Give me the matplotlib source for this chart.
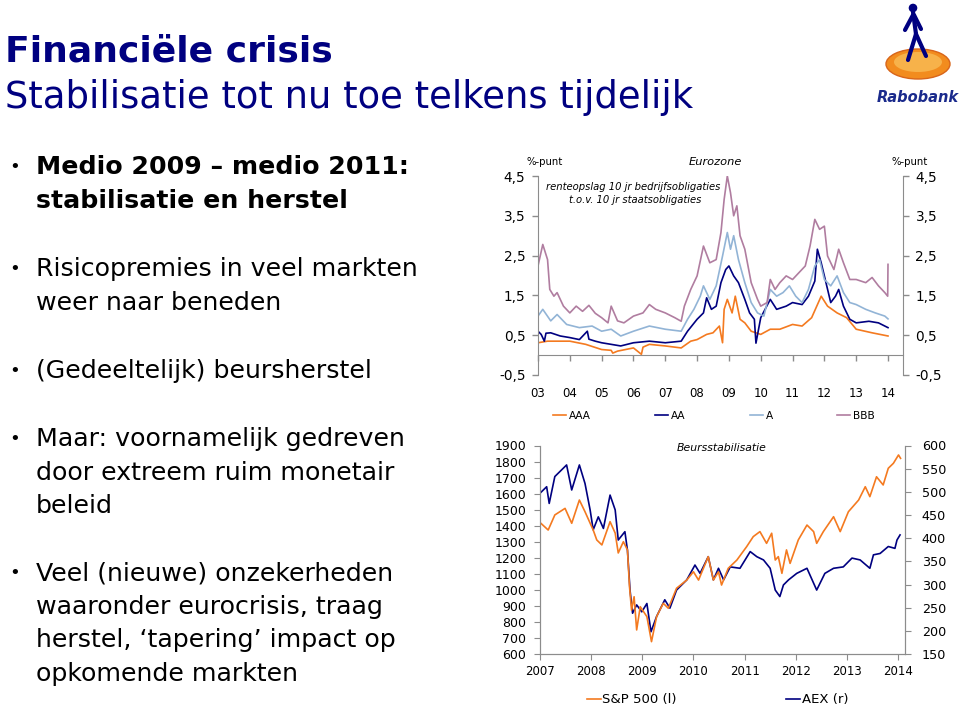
import matplotlib
matplotlib.use('Agg')
import matplotlib.pyplot as plt
from matplotlib.patches import Ellipse, Circle

plt.rcParams['font.family'] = ['DejaVu Sans']

W, H = 960, 709
fig = plt.figure(figsize=(9.6, 7.09), dpi=100)


def fx(px):
    return px / W


def fy(py):
    return 1 - py / H


NAVY = '#000080'
ORANGE = '#F47A20'
LBLUE = '#92B4D6'
MAUVE = '#B07DA0'
GRAY = '#8C8C8C'

# ---------------- text data ----------------
title_bold = 'Financiële crisis'
title_sub = 'Stabilisatie tot nu toe telkens tijdelijk'
bullets = [
    (['Medio 2009 – medio 2011:', 'stabilisatie en herstel'], True, 167),
    (['Risicopremies in veel markten', 'weer naar beneden'], False, 269),
    (['(Gedeeltelijk) beursherstel'], False, 371),
    (['Maar: voornamelijk gedreven', 'door extreem ruim monetair', 'beleid'], False, 439),
    (['Veel (nieuwe) onzekerheden', 'waaronder eurocrisis, traag',
      'herstel, ‘tapering’ impact op', 'opkomende markten'], False, 573),
]

# ---------------- chart 1 data (Eurozone spreads, %-punt) ----------------
years1 = list(range(2003, 2015))
year1_labels = ['03', '04', '05', '06', '07', '08', '09', '10', '11', '12', '13', '14']
yticks1 = [-0.5, 0.5, 1.5, 2.5, 3.5, 4.5]
ytick1_labels = ['-0,5', '0,5', '1,5', '2,5', '3,5', '4,5']

t_aaa = [2003.0, 2003.3, 2003.6, 2004.0, 2004.5, 2005.0, 2005.3, 2005.35, 2005.5, 2006.0,
         2006.25, 2006.3, 2006.5, 2007.0, 2007.5, 2007.8, 2008.0, 2008.3, 2008.5, 2008.7,
         2008.8, 2008.85, 2008.95, 2009.1, 2009.2, 2009.35, 2009.5, 2009.7, 2010.0, 2010.3,
         2010.6, 2011.0, 2011.3, 2011.6, 2011.9, 2012.1, 2012.4, 2012.7, 2013.0, 2013.5,
         2014.0]
v_aaa = [0.31, 0.35, 0.35, 0.35, 0.27, 0.14, 0.12, 0.05, 0.10, 0.18,
         0.02, 0.20, 0.27, 0.23, 0.18, 0.35, 0.39, 0.52, 0.56, 0.73,
         0.31, 1.15, 1.40, 1.06, 1.48, 0.90, 0.81, 0.60, 0.52, 0.65,
         0.65, 0.77, 0.73, 0.94, 1.48, 1.23, 1.06, 0.94, 0.65, 0.56,
         0.48]

t_aa = [2003.0, 2003.1, 2003.2, 2003.25, 2003.4, 2003.7, 2004.0, 2004.3, 2004.55, 2004.6,
        2004.8, 2005.0, 2005.3, 2005.6, 2006.0, 2006.5, 2007.0, 2007.5, 2007.7, 2008.0,
        2008.2, 2008.3, 2008.45, 2008.6, 2008.75, 2008.9, 2009.0, 2009.15, 2009.3, 2009.5,
        2009.65, 2009.8, 2009.85, 2010.0, 2010.3, 2010.5, 2010.8, 2011.0, 2011.3, 2011.5,
        2011.7, 2011.78, 2011.9, 2012.0, 2012.2, 2012.35, 2012.45, 2012.6, 2012.8, 2013.0,
        2013.4, 2013.7, 2014.0]
v_aa = [0.60, 0.52, 0.35, 0.55, 0.56, 0.48, 0.44, 0.39, 0.60, 0.40,
        0.35, 0.31, 0.27, 0.23, 0.31, 0.35, 0.31, 0.35, 0.60, 0.90,
        1.06, 1.44, 1.15, 1.23, 1.82, 2.15, 2.24, 1.99, 1.82, 1.40,
        1.06, 0.90, 0.30, 0.94, 1.40, 1.15, 1.23, 1.32, 1.27, 1.48,
        1.86, 2.66, 2.32, 1.99, 1.32, 1.48, 1.65, 1.23, 0.90, 0.81,
        0.85, 0.81, 0.69]

t_a = [2003.0, 2003.15, 2003.4, 2003.6, 2003.9, 2004.3, 2004.7, 2005.0, 2005.3, 2005.6,
       2006.0, 2006.5, 2007.0, 2007.5, 2007.7, 2007.9, 2008.1, 2008.2, 2008.4, 2008.6,
       2008.8, 2008.95, 2009.05, 2009.15, 2009.3, 2009.5, 2009.7, 2009.9, 2010.1, 2010.3,
       2010.5, 2010.7, 2010.9, 2011.1, 2011.3, 2011.5, 2011.7, 2011.85, 2012.0, 2012.2,
       2012.4, 2012.6, 2012.8, 2013.0, 2013.3, 2013.6, 2013.9, 2014.0]
v_a = [0.98, 1.15, 0.86, 1.02, 0.77, 0.69, 0.73, 0.60, 0.65, 0.48,
       0.60, 0.73, 0.65, 0.60, 0.90, 1.15, 1.48, 1.74, 1.40, 1.74,
       2.49, 3.08, 2.66, 3.00, 2.40, 1.82, 1.32, 1.06, 0.98, 1.65,
       1.48, 1.57, 1.74, 1.48, 1.32, 1.65, 2.24, 2.40, 1.90, 1.74,
       1.99, 1.57, 1.32, 1.27, 1.15, 1.06, 0.98, 0.91]

t_bbb = [2003.0, 2003.15, 2003.3, 2003.37, 2003.5, 2003.6, 2003.8, 2004.0, 2004.2, 2004.4,
         2004.6, 2004.8, 2005.0, 2005.2, 2005.3, 2005.5, 2005.7, 2006.0, 2006.3, 2006.5,
         2006.7, 2007.0, 2007.3, 2007.5, 2007.6, 2007.8, 2008.0, 2008.2, 2008.4, 2008.6,
         2008.75, 2008.85, 2008.95, 2009.05, 2009.15, 2009.25, 2009.35, 2009.5, 2009.7, 2009.9,
         2010.0, 2010.2, 2010.3, 2010.45, 2010.6, 2010.8, 2011.0, 2011.2, 2011.4, 2011.55,
         2011.7, 2011.85, 2012.0, 2012.1, 2012.3, 2012.45, 2012.6, 2012.8, 2013.0, 2013.3,
         2013.5, 2013.7, 2013.9, 2013.99, 2014.0]
v_bbb = [2.24, 2.78, 2.40, 1.65, 1.48, 1.57, 1.23, 1.06, 1.23, 1.10,
         1.25, 1.05, 0.94, 0.81, 1.23, 0.86, 0.81, 0.98, 1.06, 1.27,
         1.15, 1.06, 0.94, 0.85, 1.23, 1.65, 1.99, 2.74, 2.32, 2.40,
         3.08, 3.91, 4.50, 4.08, 3.50, 3.75, 3.00, 2.66, 1.82, 1.40,
         1.23, 1.32, 1.90, 1.65, 1.82, 1.99, 1.90, 2.07, 2.24, 2.74,
         3.41, 3.16, 3.24, 2.49, 2.15, 2.66, 2.32, 1.90, 1.90, 1.82,
         1.95, 1.74, 1.57, 1.48, 2.28]

# ---------------- chart 2 data (Beursstabilisatie) ----------------
years2 = list(range(2007, 2015))
yticks2_left = list(range(600, 2000, 100))
yticks2_right = list(range(150, 650, 50))

t_sp = [2007.0, 2007.16, 2007.29, 2007.49, 2007.62, 2007.77, 2007.88, 2008.04, 2008.11, 2008.21,
        2008.37, 2008.47, 2008.53, 2008.63, 2008.71, 2008.75, 2008.79, 2008.84, 2008.89, 2008.96,
        2009.09, 2009.18, 2009.28, 2009.41, 2009.51, 2009.67, 2009.87, 2010.0, 2010.1, 2010.29,
        2010.39, 2010.49, 2010.55, 2010.68, 2010.85, 2011.04, 2011.17, 2011.3, 2011.43, 2011.53,
        2011.6, 2011.66, 2011.73, 2011.82, 2011.89, 2012.05, 2012.22, 2012.35, 2012.41, 2012.54,
        2012.74, 2012.87, 2013.03, 2013.23, 2013.36, 2013.45, 2013.58, 2013.71, 2013.81, 2013.91,
        2014.01, 2014.05]
v_sp = [1420, 1373, 1467, 1508, 1415, 1560, 1487, 1373, 1311, 1280,
        1425, 1354, 1230, 1300, 1249, 1020, 874, 957, 750, 895,
        833, 677, 833, 916, 885, 1010, 1061, 1113, 1061, 1207,
        1061, 1113, 1030, 1134, 1186, 1269, 1332, 1363, 1290, 1353,
        1186, 1207, 1103, 1249, 1165, 1311, 1404, 1363, 1290, 1363,
        1456, 1363, 1487, 1560, 1643, 1581, 1705, 1654, 1758, 1789,
        1841, 1820]

t_aex = [2007.0, 2007.13, 2007.18, 2007.29, 2007.52, 2007.62, 2007.77, 2007.88, 2007.98, 2008.04,
         2008.14, 2008.24, 2008.37, 2008.47, 2008.53, 2008.66, 2008.71, 2008.76, 2008.81, 2008.89,
         2008.99, 2009.09, 2009.17, 2009.28, 2009.44, 2009.54, 2009.67, 2009.87, 2010.03, 2010.13,
         2010.29, 2010.39, 2010.49, 2010.59, 2010.72, 2010.91, 2011.11, 2011.24, 2011.37, 2011.5,
         2011.6, 2011.69, 2011.76, 2011.86, 2012.02, 2012.22, 2012.41, 2012.57, 2012.74, 2012.93,
         2013.1, 2013.26, 2013.45, 2013.52, 2013.65, 2013.81, 2013.94, 2013.98, 2014.04]
v_aex = [497, 511, 475, 533, 558, 504, 558, 518, 461, 418,
         446, 421, 493, 461, 396, 414, 374, 288, 238, 256,
         241, 259, 198, 231, 267, 249, 288, 310, 342, 324,
         360, 310, 335, 310, 338, 335, 371, 360, 353, 335,
         288, 274, 299, 310, 324, 335, 288, 324, 335, 338,
         357, 353, 335, 364, 367, 382, 378, 396, 407]

# ---------------- title & bullets ----------------
fig.text(fx(5), fy(52), title_bold, fontsize=26, fontweight='bold', color=NAVY,
         ha='left', va='center')
fig.text(fx(5), fy(97), title_sub, fontsize=26.6, color=NAVY, ha='left', va='center')

line_h = 33.6
for lines, bold, y0 in bullets:
    fig.text(fx(9), fy(y0), '•', fontsize=13, color='black', ha='left', va='center')
    for i, ln in enumerate(lines):
        fig.text(fx(36), fy(y0 + i * line_h), ln, fontsize=18.2,
                 fontweight='bold' if bold else 'normal', color='black',
                 ha='left', va='center')

# ---------------- logo ----------------
lg = fig.add_axes([fx(860), fy(110), 100 / W, 110 / H])
lg.set_xlim(0, 100)
lg.set_ylim(110, 0)
lg.axis('off')
lg.add_patch(Ellipse((58, 64), 64, 30, facecolor='#F28C1E', edgecolor='#D8651A', lw=1))
lg.add_patch(Ellipse((58, 62), 48, 20, facecolor='#F7B24A', edgecolor='none'))
lg.add_patch(Circle((53, 8), 3.6, color=NAVY))
for (x0, y0, x1, y1) in [(53, 12, 56, 34), (56, 34, 48, 60), (56, 34, 66, 56),
                         (53, 15, 45, 30), (54, 15, 61, 29)]:
    lg.plot([x0, x1], [y0, y1], color=NAVY, lw=3, solid_capstyle='round')
lg.text(58, 97, 'Rabobank', fontsize=10.5, fontweight='bold', fontstyle='italic',
        color='#1A2A8C', ha='center', va='center')

# ---------------- chart 1 ----------------
ax1 = fig.add_axes([fx(538), fy(375), (903 - 538) / W, (375 - 176) / H])
ax1.plot(t_aaa, v_aaa, color=ORANGE, lw=1.2, label='AAA')
ax1.plot(t_aa, v_aa, color=NAVY, lw=1.2, label='AA')
ax1.plot(t_a, v_a, color=LBLUE, lw=1.2, label='A')
ax1.plot(t_bbb, v_bbb, color=MAUVE, lw=1.2, label='BBB')
ax1.set_xlim(2003, 2003 + 11 * (903 - 538) / 350.0)
ax1.set_ylim(-0.5, 4.5)
ax1.spines['top'].set_visible(False)
ax1.spines['bottom'].set_position(('data', 0))
for s in ['left', 'right', 'bottom']:
    ax1.spines[s].set_color(GRAY)
ax1.set_yticks(yticks1)
ax1.set_yticklabels(ytick1_labels)
ax1.set_xticks(years1)
ax1.set_xticklabels(year1_labels)
ax1.tick_params(axis='y', which='both', left=True, right=True, labelleft=True,
                labelright=True, direction='out', length=4, width=1, color=GRAY,
                labelsize=9.8, pad=5)
ax1.tick_params(axis='x', direction='out', length=4, width=1, color=GRAY,
                labelsize=8.5, pad=19)
ax1.set_facecolor('none')

fig.text(fx(545), fy(162), '%-punt', fontsize=7.3, ha='center', va='center')
fig.text(fx(910), fy(162), '%-punt', fontsize=7.3, ha='center', va='center')
fig.text(fx(715), fy(162), 'Eurozone', fontsize=8.2, fontstyle='italic',
         ha='center', va='center')
fig.text(fx(633), fy(187), 'renteopslag 10 jr bedrijfsobligaties', fontsize=7.2,
         fontstyle='italic', ha='center', va='center')
fig.text(fx(635), fy(200), 't.o.v. 10 jr staatsobligaties', fontsize=7.2,
         fontstyle='italic', ha='center', va='center')

ax1.legend(loc='center left', bbox_to_anchor=(fx(553), fy(416)),
           bbox_transform=fig.transFigure, ncol=4, frameon=False, fontsize=7.6,
           handlelength=1.25, handletextpad=0.25, columnspacing=6.1,
           borderpad=0, borderaxespad=0)

# ---------------- chart 2 ----------------
ax2 = fig.add_axes([fx(540), fy(654), (905 - 540) / W, (654 - 445.5) / H])
ax2.plot(t_sp, v_sp, color=ORANGE, lw=1.2, label='S&P 500 (l)')
ax2.set_xlim(2007, 2007 + 7 * (905 - 540) / 358.0)
ax2.set_ylim(600, 1900)
ax2.set_yticks(yticks2_left)
ax2.set_xticks(years2)
ax2.spines['top'].set_visible(False)
for s in ['left', 'right', 'bottom']:
    ax2.spines[s].set_color(GRAY)
ax2.tick_params(axis='y', direction='out', length=4, color=GRAY, labelsize=9, pad=6)
ax2.tick_params(axis='x', direction='out', length=4, color=GRAY, labelsize=8.5, pad=4)

ax2r = ax2.twinx()
ax2r.plot(t_aex, v_aex, color=NAVY, lw=1.2, label='AEX (r)')
ax2r.set_ylim(150, 600)
ax2r.set_yticks(yticks2_right)
ax2r.spines['top'].set_visible(False)
for s in ['left', 'right', 'bottom']:
    ax2r.spines[s].set_color(GRAY)
ax2r.tick_params(axis='y', direction='out', length=4, color=GRAY, labelsize=9.2, pad=8)
ax2.set_zorder(ax2r.get_zorder() + 1)
ax2.patch.set_visible(False)

fig.text(fx(722), fy(448), 'Beursstabilisatie', fontsize=7.8, fontstyle='italic',
         ha='center', va='center')

h1, l1 = ax2.get_legend_handles_labels()
h2, l2 = ax2r.get_legend_handles_labels()
ax2.legend(h1 + h2, l1 + l2, loc='center left', bbox_to_anchor=(fx(587), fy(700)),
           bbox_transform=fig.transFigure, ncol=2, frameon=False, fontsize=9.5,
           handlelength=1.06, handletextpad=0.1, columnspacing=8.3,
           borderpad=0, borderaxespad=0)

fig.savefig('out.png', dpi=100)
